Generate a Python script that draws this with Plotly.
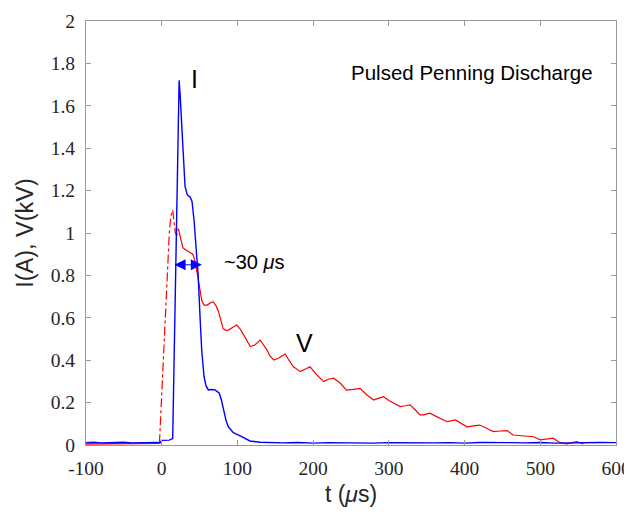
import plotly.graph_objects as go

# ---- data ----
t_I = [-100, -90, -80, -70, -60, -50, -40, -30, -20, -10, -2, 0, 5, 10, 14.5,
       16, 19, 20.5, 22, 23, 24.2, 26.4, 28.5, 30.8, 33.8, 37.4, 40, 42.7, 45.3,
       48, 50.6, 52.8, 55.9, 58.5, 61.6, 66, 70.4, 76, 79, 81.4, 85, 88, 94.6,
       105.6, 116.6, 130, 145, 160, 180, 200, 220, 240, 260, 280, 300, 320, 340,
       360, 380, 400, 420, 440, 460, 480, 500, 520, 540, 560, 580, 600]
I_vals = [0.011, 0.013, 0.010, 0.012, 0.011, 0.013, 0.010, 0.012, 0.011, 0.012, 0.011,
          0.022, 0.024, 0.023, 0.03,
          0.33, 0.85, 1.20, 1.55, 1.72, 1.66, 1.50, 1.34, 1.22, 1.18, 1.17, 1.15, 1.06, 0.935,
          0.81, 0.605, 0.448, 0.322, 0.28, 0.26, 0.262, 0.26, 0.244, 0.21, 0.165, 0.115, 0.086, 0.058,
          0.039, 0.019, 0.013, 0.011, 0.010, 0.012, 0.009, 0.011, 0.010, 0.012, 0.009, 0.011, 0.010,
          0.012, 0.010, 0.011, 0.009, 0.012, 0.010, 0.011, 0.010, 0.012, 0.009, 0.011, 0.010, 0.012,
          0.011]

t_V = [-100, -80, -60, -40, -20, -3,
       0, 4, 8, 10, 12, 14.5, 16, 18, 20, 22,
       25, 28, 32, 37, 41, 44, 46, 48, 50, 53, 56, 60, 64, 68, 72, 75, 78, 81, 85, 88, 94,
       99, 104, 108, 112, 117, 123, 130, 134, 139, 143, 148, 154, 163, 168, 174, 183, 190,
       196, 205, 214, 220, 227, 236, 244, 253, 262, 271, 280, 286, 293, 300, 306, 315, 322,
       328, 335, 341, 346, 354, 363, 370, 377, 388, 398, 403, 412, 420, 429, 438, 447, 456,
       464, 472, 482, 491, 500, 508, 517, 526, 535, 548, 557]
V_vals = [0.005, 0.006, 0.004, 0.005, 0.006, 0.008,
          0.24, 0.55, 0.87, 1.0, 1.08, 1.108, 1.06, 1.0, 0.99, 1.02,
          0.97, 0.93, 0.92, 0.91, 0.90, 0.87, 0.83, 0.78, 0.73, 0.68, 0.66, 0.66, 0.67, 0.676,
          0.655, 0.63, 0.59, 0.55, 0.54, 0.542, 0.555,
          0.566, 0.545, 0.519, 0.49, 0.464, 0.472, 0.495, 0.475, 0.448, 0.42, 0.401, 0.409, 0.429,
          0.40, 0.369, 0.346, 0.36,
          0.369, 0.33, 0.299, 0.31, 0.315, 0.291, 0.259, 0.262, 0.267, 0.236, 0.212, 0.22, 0.228,
          0.21, 0.197, 0.181, 0.185,
          0.189, 0.165, 0.142, 0.142, 0.15, 0.134, 0.12, 0.11, 0.118, 0.094, 0.086, 0.09, 0.094,
          0.079, 0.063, 0.066, 0.068,
          0.047, 0.044, 0.042, 0.039, 0.024, 0.028, 0.032, 0.011, 0.005, 0.016, 0.005]

x_ticks = [-100, 0, 100, 200, 300, 400, 500, 600]
x_tick_labels = ["-100", "0", "100", "200", "300", "400", "500", "600"]
y_ticks = [0, 0.2, 0.4, 0.6, 0.8, 1, 1.2, 1.4, 1.6, 1.8, 2]
y_tick_labels = ["0", "0.2", "0.4", "0.6", "0.8", "1", "1.2", "1.4", "1.6", "1.8", "2"]

BLUE = "rgb(0,0,255)"
RED = "rgb(255,0,0)"

# split voltage trace: baseline (solid), rise (dash-dot), rest (solid)
rise_start = t_V.index(-3)
rise_end = t_V.index(22)

fig = go.Figure()
fig.add_trace(go.Scatter(x=t_V[:rise_start + 1], y=V_vals[:rise_start + 1], mode="lines",
                         line=dict(color=RED, width=1.4), showlegend=False))
fig.add_trace(go.Scatter(x=t_V[rise_start:rise_end + 1], y=V_vals[rise_start:rise_end + 1],
                         mode="lines", line=dict(color=RED, width=1.2, dash="dashdot"),
                         showlegend=False))
fig.add_trace(go.Scatter(x=t_V[rise_end:], y=V_vals[rise_end:], mode="lines",
                         line=dict(color=RED, width=1.2), showlegend=False))
fig.add_trace(go.Scatter(x=t_I, y=I_vals, mode="lines",
                         line=dict(color=BLUE, width=1.4), showlegend=False))

axis_common = dict(
    showline=True, linecolor="#999999", linewidth=1, mirror="ticks",
    ticks="inside", ticklen=5, tickcolor="#999999", showgrid=False, zeroline=False,
    automargin=False,
    tickfont=dict(family="Liberation Serif", size=19.5, color="#262626"),
)

# page body has an 8px margin, so the figure is offset by 8px
fig.update_layout(
    width=624, height=499,
    margin=dict(l=78, r=16, t=13, b=62),
    paper_bgcolor="white", plot_bgcolor="white",
    xaxis=dict(range=[-100, 600], tickvals=x_ticks, ticktext=x_tick_labels,
               ticklabelstandoff=6,
               title=dict(text="t (<i>μ</i>s)", font=dict(family="Liberation Sans", size=23,
                                                            color="#262626"), standoff=8),
               **axis_common),
    yaxis=dict(range=[0, 2], tickvals=y_ticks, ticktext=y_tick_labels,
               ticklabelstandoff=6,
               title=dict(text="I(A), V(kV)", font=dict(family="Liberation Sans", size=23.5,
                                                          color="#262626"), standoff=10),
               **axis_common),
)

# double arrow (~30 us width)
fig.add_annotation(x=53, y=0.85, ax=15, ay=0.85, xref="x", yref="y", axref="x", ayref="y",
                   text="", showarrow=True, arrowhead=2, startarrowhead=2, arrowside="end+start",
                   arrowsize=2.2, startarrowsize=2.2, arrowwidth=1, arrowcolor=BLUE)
fig.add_annotation(x=79, y=0.865, xref="x", yref="y", text="~30 <i>μ</i>s", showarrow=False,
                   xanchor="left", yanchor="middle",
                   font=dict(family="Liberation Sans", size=20, color="black"))
fig.add_annotation(x=42.7, y=1.727, xref="x", yref="y", text="I", showarrow=False,
                   xanchor="center", yanchor="middle",
                   font=dict(family="Liberation Sans", size=25, color="black"))
fig.add_annotation(x=189, y=0.48, xref="x", yref="y", text="V", showarrow=False,
                   xanchor="center", yanchor="middle",
                   font=dict(family="Liberation Sans", size=25, color="black"))
fig.add_annotation(x=247, y=1.755, xref="x", yref="y", text="Pulsed Penning Discharge",
                   showarrow=False, xanchor="left", yanchor="middle",
                   font=dict(family="Liberation Sans", size=20.5, color="black"))

fig.write_html("out.html")
